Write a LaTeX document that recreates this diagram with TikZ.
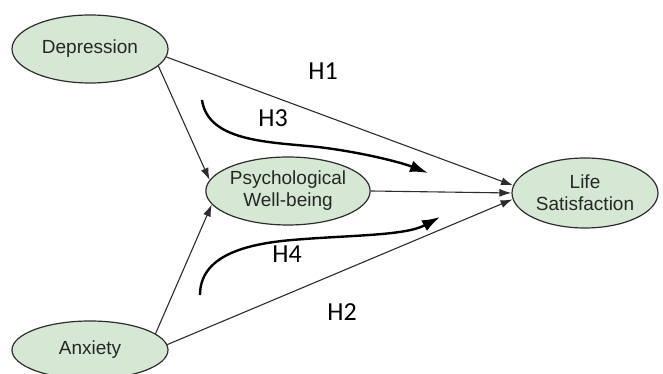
\documentclass[tikz,border=0pt]{standalone}
\usepackage{fontspec}
\setmainfont{Liberation Sans}
\newfontfamily\hfont{Carlito}
\usetikzlibrary{shapes.geometric,arrows.meta}
\definecolor{nodefill}{RGB}{213,232,212}
\definecolor{edgecol}{RGB}{45,45,45}
\tikzset{
  var/.style={ellipse, draw=edgecol, line width=1.2pt, fill=nodefill, inner sep=0pt,
    align=center, font=\fontsize{19}{22}\selectfont, text=black!85},
  path/.style={draw=edgecol, line width=1.1pt, -{Latex[length=12pt,width=8pt]}},
  med/.style={draw=black, line width=2.4pt, -{Latex[length=18pt,width=12pt]}},
  hlab/.style={font=\hfont\fontsize{26}{30}\selectfont, text=black}
}
\begin{document}
\begin{tikzpicture}[x=1pt,y=1pt]
\useasboundingbox (0,0) rectangle (663,374);
\clip (0,0) rectangle (663,374);
\fill[white] (0,0) rectangle (663,374);
\node[var, minimum width=156pt, minimum height=68pt] (dep) at (90,325) {Depression};
\node[var, minimum width=160pt, minimum height=68pt] (pwb) at (288,183) {Psychological\\Well-being};
\node[var, minimum width=146pt, minimum height=70pt] (ls) at (585,181) {Life\\Satisfaction};
\node[var, minimum width=156pt, minimum height=58pt] (anx) at (90,24) {Anxiety};
\draw[path] (dep.-6) -- (ls.174);
\draw[path] (dep.-14) -- (pwb.172);
\draw[path] (anx.14) -- (pwb.190);
\draw[path] (anx.4) -- (ls.185);
\draw[path] (pwb.east) -- (ls.west);
\coordinate (h3s) at (202,274);
\coordinate (h3e) at (428,201);
\coordinate (h4s) at (200,79);
\coordinate (h4e) at (440,157);
\draw[med] (h3s) .. controls (208,232) and (270,232) .. (318,227) .. controls (360,222) and (400,212) .. (h3e);
\draw[med] (h4s) .. controls (200,118) and (245,130) .. (292,134) .. controls (350,139) and (405,138) .. (h4e);
\node[hlab] (h1) at (323,303) {H1};
\node[hlab] (h2) at (342,62) {H2};
\node[hlab] (h3) at (273,256) {H3};
\node[hlab] (h4) at (287,120) {H4};
\end{tikzpicture}
\end{document}
